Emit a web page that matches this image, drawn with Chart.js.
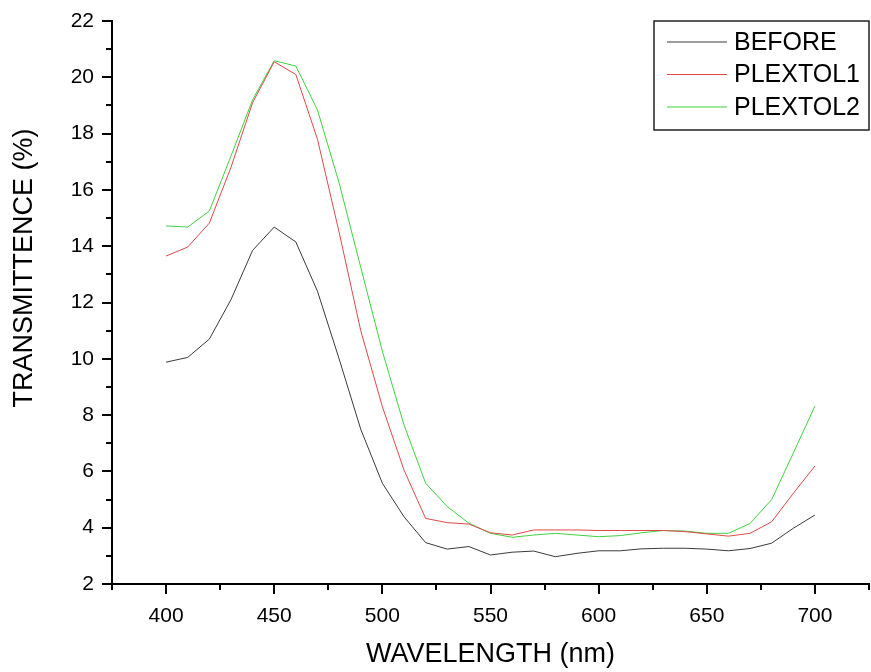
<!DOCTYPE html>
<html>
<head>
<meta charset="utf-8">
<script src="https://cdn.jsdelivr.net/npm/chart.js@4/dist/chart.umd.min.js"></script>
<style>
    html, body { margin: 0; padding: 0; background: #fff; }
    #spectrum { display: block; }
</style>
</head>
<body>
<canvas id="spectrum" width="871" height="672"></canvas>
<script>
const wavelengths = [400, 410, 420, 430, 440, 450, 460, 470, 480, 490, 500,
    510, 520, 530, 540, 550, 560, 570, 580, 590, 600,
    610, 620, 630, 640, 650, 660, 670, 680, 690, 700];
const before = [9.88, 10.05, 10.7, 12.1, 13.85, 14.68, 14.15, 12.4, 10.0, 7.5, 5.58,
    4.39, 3.47, 3.24, 3.33, 3.03, 3.13, 3.17, 2.97, 3.09, 3.18,
    3.18, 3.25, 3.27, 3.27, 3.24, 3.18, 3.26, 3.45, 3.98, 4.45];
const plextol1 = [13.65, 13.97, 14.82, 16.8, 19.1, 20.55, 20.1, 17.8, 14.5, 11.0, 8.3,
    6.05, 4.33, 4.18, 4.13, 3.82, 3.74, 3.92, 3.92, 3.92, 3.9,
    3.9, 3.9, 3.9, 3.86, 3.78, 3.7, 3.8, 4.21, 5.22, 6.19];
const plextol2 = [14.72, 14.68, 15.25, 17.2, 19.2, 20.59, 20.4, 18.84, 16.25, 13.25, 10.27,
    7.65, 5.58, 4.75, 4.16, 3.8, 3.66, 3.74, 3.8, 3.74, 3.68,
    3.72, 3.82, 3.9, 3.88, 3.8, 3.8, 4.15, 5.0, 6.65, 8.32];
const seriesNames = ["BEFORE", "PLEXTOL1", "PLEXTOL2"];
const seriesColors = ["#3a3a3a", "#e04848", "#3fd23f"];
const yTitle = "TRANSMITTENCE (%)";

const FONT = "'Liberation Sans', Arial, sans-serif";

function toPoints(values) {
    return values.map((v, i) => ({ x: wavelengths[i], y: v }));
}

// outward tick marks: long on labelled values, short in between
const axisTicks = {
    id: "axisTicks",
    afterDraw(chart) {
        const ctx = chart.ctx;
        const { left, bottom } = chart.chartArea;
        const xs = chart.scales.x;
        const ys = chart.scales.y;
        ctx.save();
        ctx.strokeStyle = "#000";
        ctx.lineWidth = 2;
        ctx.beginPath();
        for (let v = xs.min; v <= xs.max; v += 25) {
            const px = Math.round(xs.getPixelForValue(v));
            const len = v % 50 === 0 ? 10 : 6;
            ctx.moveTo(px, bottom);
            ctx.lineTo(px, bottom + len);
        }
        for (let v = ys.min; v <= ys.max; v += 1) {
            const py = Math.round(ys.getPixelForValue(v));
            const len = v % 2 === 0 ? 10 : 6;
            ctx.moveTo(left, py);
            ctx.lineTo(left - len, py);
        }
        ctx.stroke();

        // vertical axis title sits a little above the middle of the axis
        ctx.translate(25, 268);
        ctx.rotate(-Math.PI / 2);
        ctx.font = "27px " + FONT;
        ctx.fillStyle = "#000";
        ctx.textAlign = "center";
        ctx.textBaseline = "middle";
        ctx.fillText(yTitle, 0, 0);
        ctx.restore();
    },
};

// boxed legend in the upper right corner
const boxLegend = {
    id: "boxLegend",
    afterDraw(chart) {
        const ctx = chart.ctx;
        const box = { x: 654, y: 21, w: 215, h: 109 };
        ctx.save();
        ctx.fillStyle = "#fff";
        ctx.fillRect(box.x, box.y, box.w, box.h);
        ctx.strokeStyle = "#222";
        ctx.lineWidth = 1.5;
        ctx.strokeRect(box.x, box.y, box.w, box.h);
        ctx.font = "25px " + FONT;
        ctx.textBaseline = "middle";
        ctx.fillStyle = "#000";
        chart.data.datasets.forEach((ds, i) => {
            const y = 42 + i * 32.5;
            ctx.strokeStyle = ds.borderColor;
            ctx.lineWidth = 1;
            ctx.beginPath();
            ctx.moveTo(667, y);
            ctx.lineTo(727, y);
            ctx.stroke();
            ctx.fillText(ds.label, 734, y + 1);
        });
        ctx.restore();
    },
};

const config = {
    type: "line",
    data: {
        datasets: [before, plextol1, plextol2].map((values, i) => ({
            label: seriesNames[i],
            data: toPoints(values),
            borderColor: seriesColors[i],
            borderWidth: 1,
            pointRadius: 0,
            tension: 0,
            fill: false,
        })),
    },
    plugins: [axisTicks, boxLegend],
    options: {
        responsive: false,
        devicePixelRatio: 1,
        animation: false,
        layout: {
            padding: { top: 21, right: 2, left: 0, bottom: 0 },
        },
        plugins: {
            legend: { display: false },
            tooltip: { enabled: false },
        },
        scales: {
            x: {
                type: "linear",
                min: 375,
                max: 725,
                afterFit: (scale) => {
                    scale.height = 88;
                    scale.paddingLeft = 0;
                    scale.paddingRight = 0;
                },
                grid: { display: false, drawTicks: false },
                border: { display: true, color: "#000", width: 2 },
                ticks: {
                    stepSize: 25,
                    autoSkip: false,
                    padding: 20,
                    color: "#000",
                    font: { family: FONT, size: 21 },
                    maxRotation: 0,
                    callback: (v) => (v % 50 === 0 && v >= 400 && v <= 700 ? String(v) : ""),
                },
                title: {
                    display: true,
                    text: "WAVELENGTH (nm)",
                    color: "#000",
                    font: { family: FONT, size: 27, lineHeight: 1 },
                    padding: { top: 0, bottom: 4 },
                },
            },
            y: {
                min: 2,
                max: 22,
                afterFit: (scale) => {
                    scale.width = 112;
                    scale.paddingTop = 0;
                    scale.paddingBottom = 0;
                },
                grid: { display: false, drawTicks: false },
                border: { display: true, color: "#000", width: 2 },
                ticks: {
                    stepSize: 2,
                    padding: 18,
                    color: "#000",
                    font: { family: FONT, size: 21 },
                },
            },
        },
    },
};

let spectrumChart = null;

function drawSpectrum() {
    if (spectrumChart) {
        spectrumChart.destroy();
    }
    spectrumChart = new Chart(document.getElementById("spectrum"), config);
}

window.addEventListener("DOMContentLoaded", drawSpectrum);
</script>
</body>
</html>
